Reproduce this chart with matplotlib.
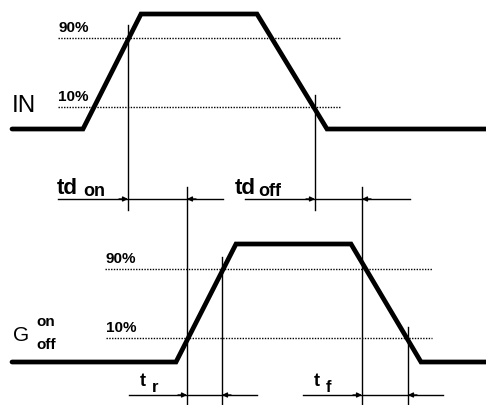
import numpy as np
import matplotlib.pyplot as plt

# waveform corner points (x in px-like time units), levels 0 = low, 1 = high
in_t = [12, 83, 141, 257, 327, 486]
in_lvl = [0, 0, 1, 1, 0, 0]
g_t = [12, 176, 236, 351, 421, 486]
g_lvl = [0, 0, 1, 1, 0, 0]

# vertical placement of the two traces (low y, high y) in figure px
in_low, in_high = 129, 14
g_low, g_high = 362, 244

# threshold lines: (y, x start, x end)
in_thr = {"90%": (38, 58, 340), "10%": (107, 58, 340)}
g_thr = {"90%": (269, 105, 432), "10%": (338, 106, 432)}

# timing marks: (label, sub, x1, x2, y arrow, line start, line end)
marks = [
    ("td", "on", 128, 187, 199, 58, 223),
    ("td", "off", 315, 362, 199, 245, 410),
    ("t", "r", 187, 222, 395, 129, 257),
    ("t", "f", 362, 408, 395, 303, 443),
]
# label anchors for the marks: (main x, main baseline, sub x, sub baseline)
mark_text = [
    (57, 194, 83, 196),
    (235, 194, 258, 196),
    (140, 386, 152, 392),
    (314, 386, 326, 392),
]
# vertical guide lines: (x, y top, y bottom)
guides = [(128, 25, 210), (315, 95, 210), (187, 187, 404),
          (362, 187, 404), (222, 257, 404), (408, 327, 404)]

fig = plt.figure(figsize=(4.86, 4.05), dpi=100)
ax = fig.add_axes([0, 0, 1, 1])
ax.set_xlim(0, 486)
ax.set_ylim(405, 0)
ax.axis("off")

font = "Liberation Sans"


def trace(t, lvl, low, high):
    y = low + (high - low) * np.array(lvl)
    ax.plot(t, y, color="black", lw=3.4, solid_joinstyle="miter",
            solid_capstyle="round")


trace(in_t, in_lvl, in_low, in_high)
trace(g_t, g_lvl, g_low, g_high)

for thr in (in_thr, g_thr):
    for name, (y, x0, x1) in thr.items():
        ax.plot([x0, x1], [y, y], color="black", lw=1.0, ls=(0, (1, 1)))
        ax.text(x0, y - 6, name, fontsize=11, fontweight="bold",
                family=font, va="baseline")

for x, y0, y1 in guides:
    ax.plot([x, x], [y0, y1], color="black", lw=1.0)

for (lab, sub, x1, x2, y, s, e), (tx, ty, sx, sy) in zip(marks, mark_text):
    ax.plot([s, e], [y, y], color="black", lw=1.0)
    ap = dict(arrowstyle="-|>", mutation_scale=7, lw=1.0, color="black",
              shrinkA=0, shrinkB=0)
    ax.annotate("", xy=(x1, y), xytext=(x1 - 9, y), arrowprops=ap)
    ax.annotate("", xy=(x2, y), xytext=(x2 + 9, y), arrowprops=ap)
    big = 16 if lab == "td" else 13
    small = 13 if lab == "td" else 12
    ax.text(tx, ty, lab, fontsize=big, fontweight="bold", family=font,
            va="baseline")
    ax.text(sx, sy, sub, fontsize=small, fontweight="bold", family=font,
            va="baseline")

ax.text(12, 112, "IN", fontsize=17.5, family=font, va="baseline")
ax.text(13, 341, "G", fontsize=15, family=font, va="baseline")
ax.text(36, 326, "on", fontsize=11, fontweight="bold", family=font,
        va="baseline")
ax.text(36, 349, "off", fontsize=11, fontweight="bold", family=font,
        va="baseline")

fig.savefig("out.png", dpi=100)
